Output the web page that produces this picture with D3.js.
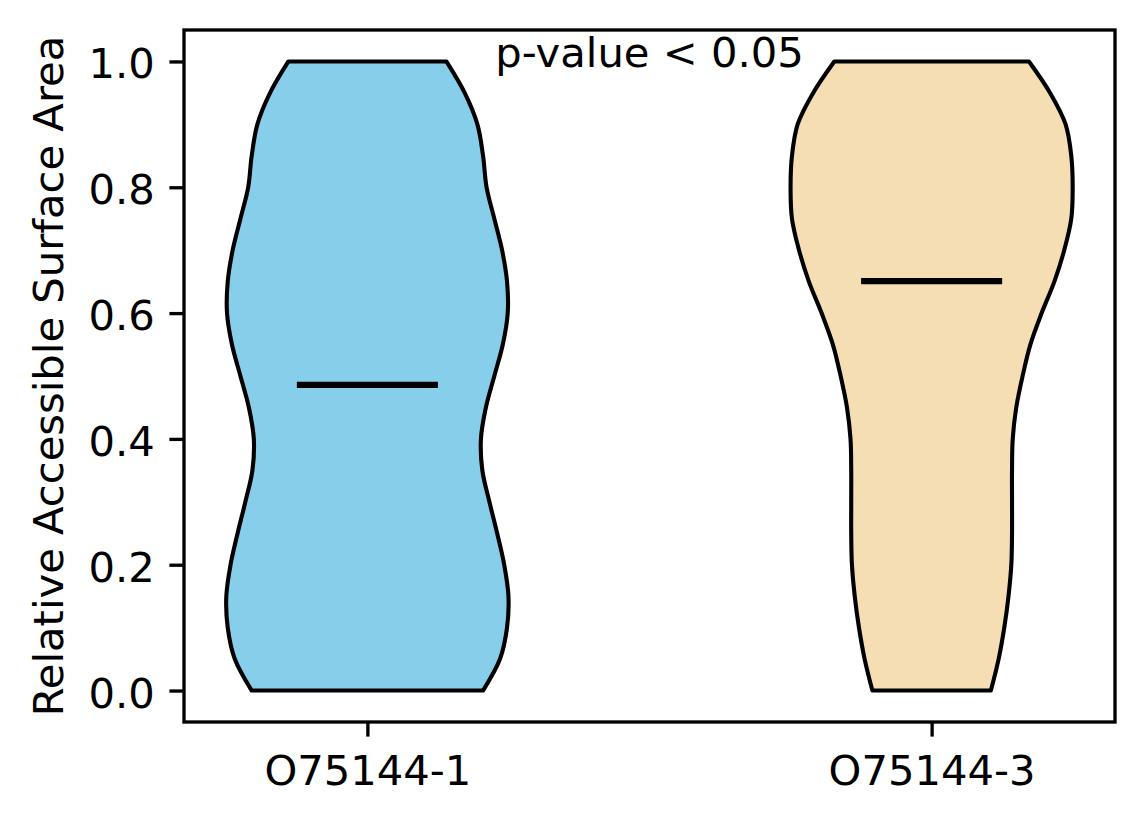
<!DOCTYPE html>
<html>
<head>
<meta charset="utf-8">
<script src="https://cdn.jsdelivr.net/npm/d3@7"></script>
<style>
  html, body { margin: 0; padding: 0; background: #fff; }
  svg { display: block; }
  text { font-family: "DejaVu Sans", sans-serif; fill: #000; }
</style>
</head>
<body>
<svg id="chart" width="1144" height="824"></svg>
<script>
// ---- data ----
const categories = ["O75144-1", "O75144-3"];
const positions = [1, 2];
const fillColors = ["#87CEEB", "#F5DEB3"];
// RSA grid (y values) on which the violin density profiles are sampled
const rsaGrid = [0.00, 0.05, 0.10, 0.15, 0.20, 0.25, 0.30, 0.35, 0.40, 0.45, 0.50,
                 0.55, 0.60, 0.65, 0.70, 0.75, 0.80, 0.85, 0.90, 0.95, 1.00];
// relative density (1 = widest point) for each violin at rsaGrid
const densityIso1 = [0.82, 0.94, 0.99, 1.00, 0.97, 0.92, 0.865, 0.815, 0.805, 0.84, 0.90,
                     0.96, 0.995, 0.99, 0.955, 0.90, 0.845, 0.82, 0.78, 0.69, 0.56];
const densityIso3 = [0.42, 0.475, 0.515, 0.545, 0.565, 0.57, 0.57, 0.57, 0.575, 0.60, 0.645,
                     0.70, 0.78, 0.87, 0.94, 0.99, 1.00, 0.99, 0.95, 0.84, 0.69];
const medians = [0.486, 0.651];
const yTicks = [0.0, 0.2, 0.4, 0.6, 0.8, 1.0];
const yLabel = "Relative Accessible Surface Area";
const annotation = "p-value < 0.05";

// ---- layout ----
const svg = d3.select("#chart");
const L = 184, R = 1115, T = 30, B = 722;
const FS = 41.7, LW = 3.33;
const violinHalf = 0.25;

const x = d3.scaleLinear().domain([0.675, 2.325]).range([L, R]);
const y = d3.scaleLinear().domain([-0.05, 1.05]).range([B, T]);

const densities = [densityIso1, densityIso3];

// violins
densities.forEach((dens, i) => {
  const pts = rsaGrid.map((v, k) => ({ v, d: dens[k] }));
  const area = d3.area()
    .y(d => y(d.v))
    .x0(d => x(positions[i] - violinHalf * d.d))
    .x1(d => x(positions[i] + violinHalf * d.d))
    .curve(d3.curveCatmullRom.alpha(0.5));
  svg.append("path")
    .attr("d", area(pts))
    .attr("fill", fillColors[i])
    .attr("stroke", "#000")
    .attr("stroke-width", 4.1)
    .attr("stroke-linejoin", "round");
});

// medians
medians.forEach((m, i) => {
  svg.append("line")
    .attr("x1", x(positions[i] - violinHalf / 2))
    .attr("x2", x(positions[i] + violinHalf / 2))
    .attr("y1", y(m)).attr("y2", y(m))
    .attr("stroke", "#000")
    .attr("stroke-width", 6.25);
});

// axes
const yAxis = d3.axisLeft(y).tickValues(yTicks).tickFormat(d3.format(".1f"))
  .tickSize(14.6).tickPadding(14.6);
const gy = svg.append("g").attr("transform", `translate(${L},0)`).call(yAxis);
gy.select(".domain").remove();
gy.selectAll(".tick line").attr("stroke-width", LW);
gy.selectAll(".tick text").attr("font-size", FS).attr("dy", null)
  .attr("dominant-baseline", "auto").attr("y", 16.5)
  .style("font-family", "'DejaVu Sans', sans-serif");

const xAxis = d3.axisBottom(x).tickValues(positions).tickFormat((d, i) => categories[i])
  .tickSize(14.6).tickPadding(14.6);
const gx = svg.append("g").attr("transform", `translate(0,${B})`).call(xAxis);
gx.select(".domain").remove();
gx.selectAll(".tick line").attr("stroke-width", LW);
gx.selectAll(".tick text").attr("font-size", FS).attr("dy", null)
  .attr("y", 63).style("font-family", "'DejaVu Sans', sans-serif");

// frame
svg.append("rect")
  .attr("x", L).attr("y", T).attr("width", R - L).attr("height", B - T)
  .attr("fill", "none").attr("stroke", "#000").attr("stroke-width", LW);

// y label
svg.append("text")
  .attr("transform", `translate(63,${(T + B) / 2}) rotate(-90)`)
  .attr("text-anchor", "middle")
  .attr("font-size", FS)
  .text(yLabel);

// annotation
svg.append("text")
  .attr("x", (L + R) / 2).attr("y", 67)
  .attr("text-anchor", "middle")
  .attr("font-size", FS)
  .text(annotation);
</script>
</body>
</html>
